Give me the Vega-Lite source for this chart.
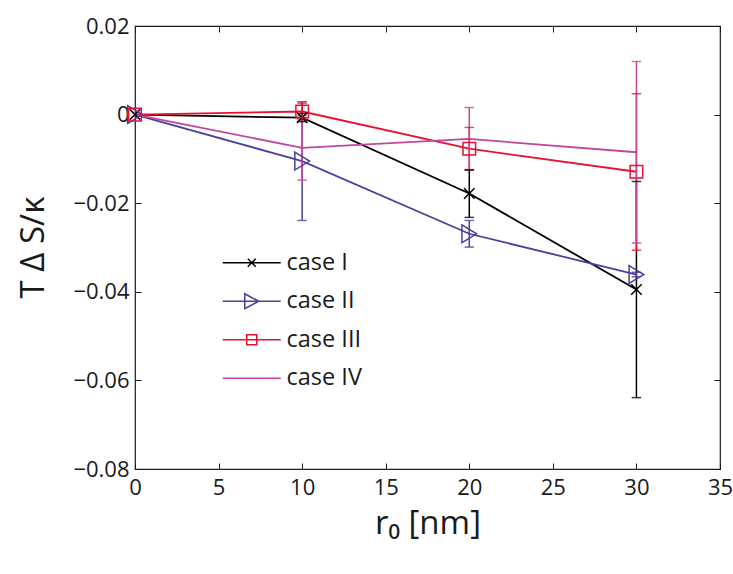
{
  "$schema": "https://vega.github.io/schema/vega-lite/v6.json",
  "width": 585,
  "height": 443,
  "autosize": {"type": "none"},
  "padding": {"left": 135, "top": 26, "right": 13, "bottom": 105},
  "background": "white",
  "config": {
    "view": {"stroke": "#1a1a1a", "strokeWidth": 1.2},
    "font": "Open Sans",
    "axis": {
      "grid": false, "domain": false, "tickColor": "#1a1a1a", "tickSize": -6, "tickWidth": 1,
      "labelFont": "Open Sans", "labelFontSize": 22, "labelColor": "#1a1a1a", "labelFlush": false,
      "titleFont": "Open Sans", "titleColor": "#1a1a1a", "titleFontWeight": "normal"
    }
  },
  "data": {"values": [
    {"case": "case I", "r": 0, "v": 0, "lo": null, "hi": null},
    {"case": "case I", "r": 10, "v": -0.0007, "lo": -0.0016, "hi": 0.0002},
    {"case": "case I", "r": 20, "v": -0.0178, "lo": -0.0232, "hi": -0.0125},
    {"case": "case I", "r": 30, "v": -0.0395, "lo": -0.0639, "hi": -0.0151},
    {"case": "case II", "r": 0, "v": 0, "lo": null, "hi": null},
    {"case": "case II", "r": 10, "v": -0.0105, "lo": -0.0239, "hi": 0.0029},
    {"case": "case II", "r": 20, "v": -0.0269, "lo": -0.0299, "hi": -0.0239},
    {"case": "case II", "r": 30, "v": -0.0361, "lo": -0.0366, "hi": -0.0356},
    {"case": "case III", "r": 0, "v": 0, "lo": null, "hi": null},
    {"case": "case III", "r": 10, "v": 0.0007, "lo": -0.0012, "hi": 0.0026},
    {"case": "case III", "r": 20, "v": -0.0077, "lo": -0.0125, "hi": -0.0029},
    {"case": "case III", "r": 30, "v": -0.0129, "lo": -0.0306, "hi": 0.0047},
    {"case": "case IV", "r": 0, "v": 0, "lo": null, "hi": null},
    {"case": "case IV", "r": 10, "v": -0.0075, "lo": -0.0148, "hi": -0.0002},
    {"case": "case IV", "r": 20, "v": -0.0055, "lo": -0.0124, "hi": 0.0016},
    {"case": "case IV", "r": 30, "v": -0.0085, "lo": -0.029, "hi": 0.012}
  ]},
  "layer": [
    {
      "mark": {"type": "line", "strokeWidth": 1.8},
      "encoding": {
        "x": {"field": "r", "type": "quantitative", "scale": {"domain": [0, 35]},
              "axis": {"title": "r₀ [nm]", "titleFontSize": 33, "values": [0, 5, 10, 15, 20, 25, 30, 35], "labelPadding": 14, "titleY": 64, "titleBaseline": "alphabetic"}},
        "y": {"field": "v", "type": "quantitative", "scale": {"domain": [-0.08, 0.02]},
              "axis": {"title": "T Δ S/κ", "titleFontSize": 33, "values": [-0.08, -0.06, -0.04, -0.02, 0, 0.02], "format": "~g", "labelPadding": 12,
                       "titleX": -102, "titleY": 221, "titleAngle": -90, "titleAlign": "center", "titleBaseline": "middle"}},
        "color": {
          "field": "case", "type": "nominal",
          "scale": {"domain": ["case I", "case II", "case III", "case IV"], "range": ["#000000", "#4B3F9E", "#E8102E", "#C2469C"]},
          "legend": {
            "orient": "none", "legendX": 81, "legendY": 225, "title": null,
            "labelFontSize": 23.5, "labelFont": "Open Sans", "labelColor": "#1a1a1a",
            "symbolSize": 100, "symbolStrokeWidth": 1.5, "symbolFillColor": "transparent",
            "labelOffset": 47, "rowPadding": 13.5, "padding": 0, "labelLimit": 200,
            "encode": {"symbols": {"update": {
              "fill": {"value": "transparent"},
              "fillOpacity": {"value": 0},
              "shape": {"signal": "datum.value === 'case I' ? 'M-1,0L10.6,0M4,-0.8L5.6,0.8M4,0.8L5.6,-0.8' : datum.value === 'case II' ? 'M-1,0L10.6,0M3.4,-1.5L6.2,0L3.4,1.5Z' : datum.value === 'case III' ? 'M-1,0L10.6,0M3.8,-1V1H5.8V-1Z' : 'M-1,0L10.6,0'"}}}}
          }
        }
      }
    },
    {
      "mark": {"type": "rule", "strokeWidth": 1.5},
      "encoding": {
        "x": {"field": "r", "type": "quantitative",
              "axis": {"orient": "top", "labels": false, "title": null, "values": [0, 5, 10, 15, 20, 25, 30, 35]}},
        "y": {"field": "lo", "type": "quantitative",
              "axis": {"orient": "right", "labels": false, "title": null, "values": [-0.08, -0.06, -0.04, -0.02, 0, 0.02]}},
        "y2": {"field": "hi"},
        "color": {"field": "case", "type": "nominal"}
      }
    },
    {
      "mark": {"type": "tick", "orient": "horizontal", "size": 9, "thickness": 0.5, "filled": false, "strokeWidth": 1},
      "encoding": {
        "x": {"field": "r", "type": "quantitative", "axis": null},
        "y": {"field": "lo", "type": "quantitative", "axis": null},
        "color": {"field": "case", "type": "nominal"}
      }
    },
    {
      "mark": {"type": "tick", "orient": "horizontal", "size": 9, "thickness": 0.5, "filled": false, "strokeWidth": 1},
      "encoding": {
        "x": {"field": "r", "type": "quantitative", "axis": null},
        "y": {"field": "hi", "type": "quantitative", "axis": null},
        "color": {"field": "case", "type": "nominal"}
      }
    },
    {
      "transform": [{"filter": "datum.case !== 'case IV'"}],
      "mark": {"type": "point", "filled": false, "strokeWidth": 1.5, "size": 110, "opacity": 1},
      "encoding": {
        "x": {"field": "r", "type": "quantitative", "axis": null},
        "y": {"field": "v", "type": "quantitative", "axis": null},
        "color": {"field": "case", "type": "nominal"},
        "shape": {"field": "case", "type": "nominal", "legend": null,
                  "scale": {"domain": ["case I", "case II", "case III"],
                            "range": ["M-1,-1L1,1M-1,1L1,-1", "M-1.4,-1.7L1.4,0L-1.4,1.7Z", "M-1.2,-1.2H1.2V1.2H-1.2Z"]}}
      }
    }
  ],
  "resolve": {"axis": {"x": "independent", "y": "independent"}}
}
